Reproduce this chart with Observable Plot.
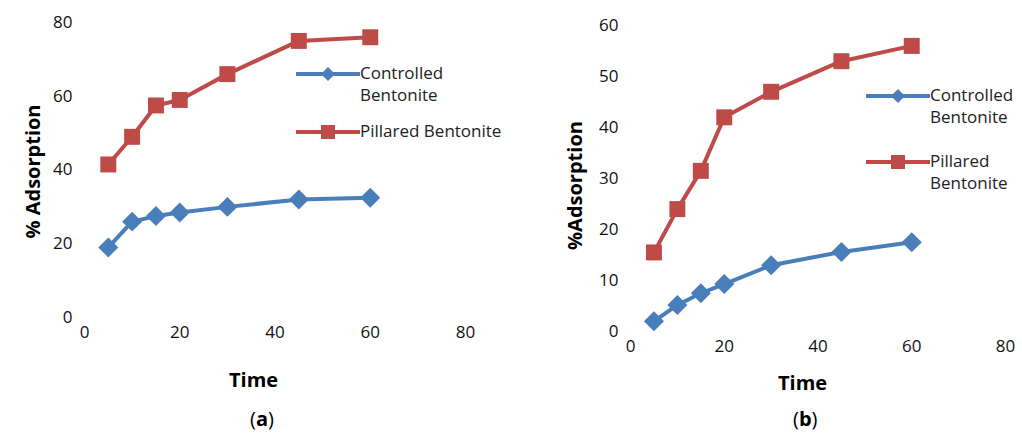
<!DOCTYPE html>
<html><head><meta charset="utf-8">
<script src="https://cdn.jsdelivr.net/npm/d3@7"></script>
<script src="https://cdn.jsdelivr.net/npm/@observablehq/plot@0.6"></script>
<style>
body{margin:0;background:#fff;font-family:"Open Sans","Liberation Sans",sans-serif;}
#wrap{position:relative;width:1022px;height:434px;}
.abs{position:absolute;}
.lbl{font-weight:bold;font-size:20px;color:#000;}
.leg{font-size:17px;color:#222;line-height:22px;}
</style></head><body>
<div id="wrap"></div>
<script>
const times = [5, 10, 15, 20, 30, 45, 60];
const controlledA = [19, 26, 27.5, 28.5, 30, 32, 32.5];
const pillaredA = [41.5, 49, 57.5, 59, 66, 75, 76];
const controlledB = [2, 5.2, 7.5, 9.3, 13, 15.6, 17.5];
const pillaredB = [15.5, 24, 31.5, 42, 47, 53, 56];
const blue = "#4a7ebb", red = "#be4b48";

const wrap = document.getElementById("wrap");

function rows(vals) { return times.map((t, i) => ({t, v: vals[i]})); }

function panel(ctrl, pill, opt) {
  const c = rows(ctrl), p = rows(pill);
  const svg = Plot.plot({
    width: opt.width, height: 400,
    marginLeft: opt.ml, marginRight: opt.mr, marginTop: opt.mt, marginBottom: opt.mb,
    style: {fontSize: "17px", fontFamily: "Open Sans, Liberation Sans, sans-serif", color: "#111", overflow: "visible"},
    x: {domain: [0, 80], ticks: [0, 20, 40, 60, 80], tickSize: 0, tickPadding: 8, label: null},
    y: {domain: opt.ydom, ticks: opt.yticks, tickSize: 0, tickPadding: 12, label: null},
    marks: [
      Plot.line(p, {x: "t", y: "v", stroke: red, strokeWidth: 4}),
      Plot.dot(p, {x: "t", y: "v", symbol: "square", r: 9, fill: red}),
      Plot.line(c, {x: "t", y: "v", stroke: blue, strokeWidth: 4}),
      Plot.dot(c, {x: "t", y: "v", symbol: "diamond2", r: 9, fill: blue})
    ]
  });
  svg.classList.add("abs");
  svg.style.left = opt.left + "px";
  svg.style.top = "0px";
  wrap.appendChild(svg);
}

panel(controlledA, pillaredA, {left: 0, width: 510, ml: 84, mr: 45, mt: 22, mb: 83, ydom: [0, 80], yticks: [0, 20, 40, 60, 80]});
panel(controlledB, pillaredB, {left: 520, width: 502, ml: 110, mr: 17, mt: 25, mb: 69, ydom: [0, 60], yticks: [0, 10, 20, 30, 40, 50, 60]});

function html(s) { const d = document.createElement("div"); d.innerHTML = s; wrap.appendChild(d.firstChild); }
function legIcon(color, shape) {
  const m = shape === "sq" ? `<rect x="25" y="3" width="14" height="14" fill="${color}"/>`
    : `<polygon points="32,3 39,10 32,17 25,10" fill="${color}"/>`;
  return `<svg width="64" height="20" style="vertical-align:middle"><line x1="0" y1="10" x2="64" y2="10" stroke="${color}" stroke-width="4"/>${m}</svg>`;
}
html(`<div class="abs lbl" style="left:229px;top:366px">Time</div>`);
html(`<div class="abs lbl" style="left:778px;top:369px">Time</div>`);
html(`<div class="abs lbl" style="left:-38px;top:158px;width:140px;text-align:center;transform:rotate(-90deg)">% Adsorption</div>`);
html(`<div class="abs lbl" style="left:504px;top:172px;width:140px;text-align:center;transform:rotate(-90deg)">%Adsorption</div>`);
html(`<div class="abs" style="left:250px;top:405px;font-size:20px">(<b>a</b>)</div>`);
html(`<div class="abs" style="left:793px;top:405px;font-size:20px">(<b>b</b>)</div>`);
html(`<div class="abs leg" style="left:296px;top:62px">${legIcon(blue,"di")}<span>Controlled</span><br><span style="margin-left:64px">Bentonite</span></div>`);
html(`<div class="abs leg" style="left:296px;top:120px">${legIcon(red,"sq")}<span>Pillared Bentonite</span></div>`);
html(`<div class="abs leg" style="left:866px;top:84px">${legIcon(blue,"di")}<span>Controlled</span><br><span style="margin-left:64px">Bentonite</span></div>`);
html(`<div class="abs leg" style="left:866px;top:150px">${legIcon(red,"sq")}<span>Pillared</span><br><span style="margin-left:64px">Bentonite</span></div>`);
</script></body></html>
